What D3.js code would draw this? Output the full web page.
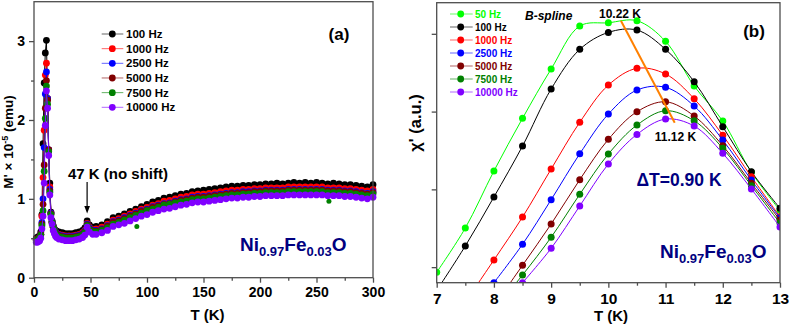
<!DOCTYPE html>
<html><head><meta charset="utf-8">
<script src="https://cdn.jsdelivr.net/npm/d3@7"></script>
<style>
body{margin:0;background:#fff}
svg{display:block;font-family:"Liberation Sans",Arial,sans-serif;font-weight:bold}
</style>
</head><body>
<svg id="c" width="789" height="325"></svg>
<script>
// ---------- Panel (a) data ----------
const namesA = ["100 Hz","1000 Hz","2500 Hz","5000 Hz","7500 Hz","10000 Hz"];
const colorsA = ["#000000","#ff0000","#0000ff","#800000","#008000","#8000ff"];
const tempsA = [2,3,4,5,6,7,8,9,10,11,12,13,14,15,16,17,18,19,20,
  22,25,28,31,34,37,40,43,45,47,49,52,55,
  60,65,70,75,80,85,90,95,100,105,110,115,120,125,130,135,140,145,150,155,160,165,170,175,180,185,190,195,200,205,210,215,220,225,230,235,240,245,250,255,260,265,270,275,280,285,290,295,300];
const m100 = [0.50,0.51,0.52,0.53,0.58,0.80,1.70,2.47,2.85,3.01,2.27,1.62,1.20,0.83,0.72,0.66,0.62,0.60,0.59,
  0.58,0.57,0.56,0.56,0.56,0.57,0.58,0.60,0.63,0.72,0.67,0.64,0.65,
  0.67,0.71,0.76,0.78,0.81,0.84,0.87,0.90,0.93,0.96,0.98,1.01,1.02,1.04,1.06,1.07,1.09,1.10,1.11,1.12,1.13,1.14,1.15,1.16,1.16,1.17,1.17,1.18,1.18,1.19,1.19,1.20,1.19,1.20,1.21,1.20,1.21,1.20,1.21,1.20,1.19,1.20,1.19,1.18,1.18,1.17,1.16,1.15,1.18];
const m1000 = [0.48,0.49,0.50,0.51,0.55,0.78,1.27,1.87,2.57,2.72,2.27,1.62,1.15,0.82,0.71,0.65,0.61,0.58,0.56,
  0.55,0.54,0.53,0.53,0.53,0.54,0.55,0.57,0.60,0.69,0.64,0.61,0.62,
  0.64,0.68,0.73,0.75,0.78,0.81,0.84,0.87,0.89,0.92,0.94,0.97,0.98,1.00,1.02,1.03,1.05,1.06,1.06,1.07,1.08,1.09,1.10,1.11,1.11,1.12,1.12,1.13,1.13,1.14,1.14,1.14,1.14,1.15,1.15,1.15,1.15,1.15,1.15,1.15,1.14,1.14,1.14,1.13,1.13,1.12,1.11,1.10,1.12];
const m2500 = [0.48,0.49,0.50,0.51,0.55,0.70,1.00,1.65,2.33,2.61,2.27,1.62,1.12,0.82,0.71,0.65,0.61,0.58,0.56,
  0.54,0.53,0.52,0.52,0.52,0.53,0.54,0.56,0.59,0.68,0.63,0.60,0.60,
  0.62,0.66,0.71,0.73,0.76,0.79,0.82,0.85,0.87,0.90,0.92,0.94,0.95,0.97,0.99,1.00,1.02,1.03,1.03,1.04,1.05,1.06,1.07,1.08,1.08,1.09,1.09,1.10,1.10,1.11,1.11,1.11,1.11,1.12,1.12,1.12,1.12,1.12,1.12,1.12,1.11,1.11,1.11,1.10,1.10,1.09,1.08,1.07,1.09];
const m5000 = [0.48,0.49,0.50,0.51,0.55,0.68,0.93,1.43,2.15,2.50,2.25,1.62,1.10,0.81,0.70,0.64,0.60,0.57,0.55,
  0.53,0.52,0.51,0.51,0.51,0.52,0.53,0.55,0.58,0.67,0.62,0.59,0.59,
  0.61,0.65,0.70,0.72,0.75,0.78,0.81,0.84,0.86,0.89,0.91,0.93,0.94,0.96,0.98,0.99,1.01,1.02,1.02,1.03,1.04,1.05,1.06,1.07,1.07,1.08,1.08,1.09,1.09,1.10,1.10,1.10,1.10,1.11,1.11,1.11,1.11,1.11,1.11,1.11,1.10,1.10,1.10,1.09,1.09,1.08,1.07,1.06,1.08];
const m7500 = [0.47,0.48,0.49,0.50,0.54,0.66,0.85,1.35,2.02,2.43,2.20,1.60,1.08,0.80,0.70,0.64,0.60,0.56,0.54,
  0.52,0.51,0.50,0.50,0.50,0.51,0.52,0.54,0.57,0.66,0.61,0.58,0.58,
  0.60,0.63,0.68,0.70,0.73,0.76,0.79,0.82,0.85,0.87,0.89,0.92,0.93,0.95,0.96,0.97,0.99,1.00,1.00,1.01,1.02,1.03,1.04,1.05,1.05,1.06,1.06,1.07,1.07,1.08,1.08,1.08,1.08,1.09,1.09,1.09,1.09,1.09,1.09,1.09,1.08,1.08,1.08,1.07,1.07,1.06,1.05,1.04,1.06];
const m10000 = [0.45,0.45,0.46,0.47,0.50,0.62,0.78,1.20,1.93,2.37,2.15,1.55,1.05,0.76,0.68,0.60,0.56,0.53,0.51,
  0.49,0.48,0.47,0.47,0.47,0.48,0.49,0.51,0.54,0.64,0.58,0.55,0.55,
  0.57,0.60,0.65,0.67,0.69,0.72,0.75,0.78,0.80,0.83,0.85,0.87,0.88,0.90,0.92,0.93,0.95,0.96,0.96,0.97,0.98,0.99,1.00,1.01,1.01,1.02,1.02,1.03,1.03,1.04,1.04,1.04,1.04,1.05,1.05,1.05,1.05,1.05,1.05,1.05,1.04,1.04,1.04,1.03,1.03,1.02,1.01,1.00,1.02];
const greenOutliersT = [91,261];
const greenOutliersV = [0.65,0.97];
const xTicksA = [0,50,100,150,200,250,300];
const yTicksA = [0,1,2,3];

// ---------- Panel (b) data ----------
const namesB = ["50 Hz","100 Hz","1000 Hz","2500 Hz","5000 Hz","7500 Hz","10000 Hz"];
const colorsB = ["#00ff00","#000000","#ff0000","#0000ff","#800000","#008000","#8000ff"];
const tempsB = [7,7.5,8,8.5,9,9.5,10,10.5,11,11.5,12,12.5,13];
const chi50    = [0.934,1.503,2.236,2.913,3.547,4.100,4.142,4.168,3.903,3.328,2.878,2.220,1.730];
const chi100   = [0.700,1.272,1.902,2.557,3.290,3.800,4.018,4.048,3.800,3.384,2.805,2.227,1.756];
const chi1000  = [null,0.550,1.092,1.644,2.261,2.862,3.341,3.556,3.483,3.165,2.695,2.162,1.648];
const chi2500  = [null,null,0.800,1.294,1.867,2.457,2.968,3.277,3.312,3.071,2.634,2.120,1.632];
const chi5000  = [null,null,0.500,1.024,1.554,2.124,2.643,2.998,3.126,2.943,2.561,2.078,1.606];
const chi7500  = [null,null,0.450,0.899,1.384,1.936,2.454,2.827,3.011,2.882,2.528,2.047,1.567];
const chi10000 = [null,null,null,0.800,1.242,1.786,2.326,2.707,2.904,2.814,2.463,2.004,1.516];
const xTicksB = [7,8,9,10,11,12,13];
const yTicksB = [1,2,3,4];
const peakLineT = [10.22,11.16];
const peakLineV = [4.168,2.857];

const svg = d3.select("#c");
const AX = "#4d4d4d";
const fmt = d3.format("d");

function styleAxis(g){
  g.select(".domain").remove();
  g.selectAll(".tick line").attr("stroke",AX).attr("stroke-width",1.3);
}
function styleText(sel,fs){
  sel.selectAll("text").attr("font-size",fs).attr("font-family","Liberation Sans, Arial").attr("font-weight","bold").attr("fill","#000");
}

// ================= Panel (a) =================
const xa = d3.scaleLinear().domain([0,300]).range([34,373]);
const ya = d3.scaleLinear().domain([0,3.5]).range([277.7,1.7]);
const ga = svg.append("g");

ga.append("g").attr("transform","translate(0,277.7)")
  .call(d3.axisBottom(xa).tickValues(d3.range(25,300,50)).tickSize(3).tickFormat(""))
  .call(styleAxis);
ga.append("g").attr("transform","translate(0,277.7)")
  .call(d3.axisBottom(xa).tickValues(xTicksA).tickSize(5).tickPadding(4).tickFormat(fmt))
  .call(styleAxis).call(styleText,14);
ga.append("g").attr("transform","translate(34,0)")
  .call(d3.axisLeft(ya).tickValues([0.5,1.5,2.5]).tickSize(3).tickFormat(""))
  .call(styleAxis);
ga.append("g").attr("transform","translate(34,0)")
  .call(d3.axisLeft(ya).tickValues(yTicksA).tickSize(5).tickPadding(4).tickFormat(fmt))
  .call(styleAxis).call(styleText,14);

const seriesA = [m100,m1000,m2500,m5000,m7500,m10000];
const lineA = d3.line().x(d=>xa(d[0])).y(d=>ya(d[1]));
seriesA.forEach((vals,i)=>{
  const pts = tempsA.map((t,j)=>[t,vals[j]]);
  ga.append("path").attr("d",lineA(pts)).attr("fill","none").attr("stroke",colorsA[i]).attr("stroke-width",1);
  ga.append("g").selectAll("circle").data(pts).join("circle")
    .attr("cx",d=>xa(d[0])).attr("cy",d=>ya(d[1])).attr("r",3.4).attr("fill",colorsA[i]);
  if(i===4){
    ga.append("g").selectAll("circle").data(greenOutliersT.map((t,j)=>[t,greenOutliersV[j]])).join("circle")
      .attr("cx",d=>xa(d[0])).attr("cy",d=>ya(d[1])).attr("r",2.5).attr("fill",colorsA[i]);
  }
});

ga.append("rect").attr("x",34).attr("y",1.7).attr("width",339).attr("height",276)
  .attr("fill","none").attr("stroke",AX).attr("stroke-width",1.3);

// legend (a)
namesA.forEach((n,i)=>{
  const y = 34 + i*14.66;
  ga.append("line").attr("x1",101.7).attr("x2",123.3).attr("y1",y).attr("y2",y).attr("stroke",colorsA[i]).attr("stroke-width",1).attr("opacity",0.6);
  ga.append("circle").attr("cx",112.3).attr("cy",y).attr("r",3.4).attr("fill",colorsA[i]);
  ga.append("text").attr("x",126).attr("y",y+4).attr("font-size",11.5).text(n);
});
ga.append("text").attr("x",339).attr("y",39.5).attr("font-size",17).attr("text-anchor","middle").text("(a)");

// annotation 47 K
ga.append("text").attr("x",68).attr("y",178.5).attr("font-size",15).text("47 K (no shift)");
ga.append("line").attr("x1",xa(47)).attr("x2",xa(47)).attr("y1",182).attr("y2",207).attr("stroke","#000").attr("stroke-width",1.2);
ga.append("path").attr("d",`M${xa(47)-2.8},206 L${xa(47)+2.8},206 L${xa(47)},213.5 Z`).attr("fill","#000");

// formula
function formula(g,x,y){
  const t = g.append("text").attr("x",x).attr("y",y).attr("fill","#000080").attr("font-size",19);
  t.append("tspan").text("Ni");
  t.append("tspan").attr("font-size",13).attr("dy",5).text("0.97");
  t.append("tspan").attr("dy",-5).text("Fe");
  t.append("tspan").attr("font-size",13).attr("dy",5).text("0.03");
  t.append("tspan").attr("dy",-5).text("O");
}
formula(ga,240,250.5);

// axis titles (a)
ga.append("text").attr("x",207.5).attr("y",319.5).attr("font-size",15).attr("text-anchor","middle").text("T (K)");
const yl = ga.append("text").attr("transform","translate(12.5,142) rotate(-90)").attr("text-anchor","middle").attr("font-size",13.5);
yl.append("tspan").text("M' \u00d7 10");
yl.append("tspan").attr("font-size",9).attr("dy",-5).text("-5");
yl.append("tspan").attr("dy",5).text(" (emu)");

// ================= Panel (b) =================
const xb = d3.scaleLinear().domain([7,13]).range([436.7,780]);
const yb = d3.scaleLinear().domain([0.8,4.4]).range([282.7,2.7]);
const gb = svg.append("g");

svg.append("defs").append("clipPath").attr("id","clipb")
  .append("rect").attr("x",436.7).attr("y",2.7).attr("width",343.3).attr("height",280);

gb.append("g").attr("transform","translate(0,282.7)")
  .call(d3.axisBottom(xb).tickValues(d3.range(7.5,13,1)).tickSize(3).tickFormat(""))
  .call(styleAxis);
gb.append("g").attr("transform","translate(0,282.7)")
  .call(d3.axisBottom(xb).tickValues(xTicksB).tickSize(5).tickPadding(5).tickFormat(fmt))
  .call(styleAxis).call(styleText,15.5);
gb.append("g").attr("transform","translate(436.7,0)")
  .call(d3.axisLeft(yb).tickValues(yTicksB).tickSize(5).tickFormat(""))
  .call(styleAxis);

const seriesB = [chi50,chi100,chi1000,chi2500,chi5000,chi7500,chi10000];
const lineB = d3.line().x(d=>xb(d[0])).y(d=>yb(d[1])).curve(d3.curveCatmullRom.alpha(0.5));
const plotB = gb.append("g").attr("clip-path","url(#clipb)");
seriesB.forEach((vals,i)=>{
  const pts = tempsB.map((t,j)=>[t,vals[j]]).filter(d=>d[1]!==null);
  plotB.append("path").attr("d",lineB(pts)).attr("fill","none").attr("stroke",colorsB[i]).attr("stroke-width",1);
  plotB.append("g").selectAll("circle").data(pts).join("circle")
    .attr("cx",d=>xb(d[0])).attr("cy",d=>yb(d[1])).attr("r",3.5).attr("fill",colorsB[i]);
});
plotB.append("line").attr("x1",xb(peakLineT[0])).attr("y1",yb(peakLineV[0]))
  .attr("x2",xb(peakLineT[1])).attr("y2",yb(peakLineV[1])).attr("stroke","#ff8000").attr("stroke-width",2);

gb.append("rect").attr("x",436.7).attr("y",2.7).attr("width",343.3).attr("height",280)
  .attr("fill","none").attr("stroke",AX).attr("stroke-width",1.3);

// legend (b)
namesB.forEach((n,i)=>{
  const y = 14 + i*13;
  gb.append("line").attr("x1",450).attr("x2",472.7).attr("y1",y).attr("y2",y).attr("stroke",colorsB[i]).attr("stroke-width",1).attr("opacity",0.6);
  gb.append("circle").attr("cx",460.7).attr("cy",y).attr("r",3.4).attr("fill",colorsB[i]);
  gb.append("text").attr("x",475).attr("y",y+3.6).attr("font-size",10).attr("fill",colorsB[i]).text(n);
});
gb.append("text").attr("x",525).attr("y",19.5).attr("font-size",12).attr("font-style","italic").text("B-spline");
gb.append("text").attr("x",620).attr("y",17.5).attr("font-size",12).attr("text-anchor","middle").text("10.22 K");
gb.append("text").attr("x",675.5).attr("y",141).attr("font-size",12).attr("text-anchor","middle").text("11.12 K");
gb.append("text").attr("x",754).attr("y",36.5).attr("font-size",17).attr("text-anchor","middle").text("(b)");
gb.append("text").attr("x",636.5).attr("y",185.5).attr("font-size",17.5).attr("fill","#000080").text("\u0394T=0.90 K");
formula(gb,660,258);

gb.append("text").attr("x",611).attr("y",321).attr("font-size",15).attr("text-anchor","middle").text("T (K)");
gb.append("text").attr("transform","translate(421,123) rotate(-90)").attr("text-anchor","middle").attr("font-size",16.5).text("\u03c7' (a.u.)");
</script>
</body></html>
